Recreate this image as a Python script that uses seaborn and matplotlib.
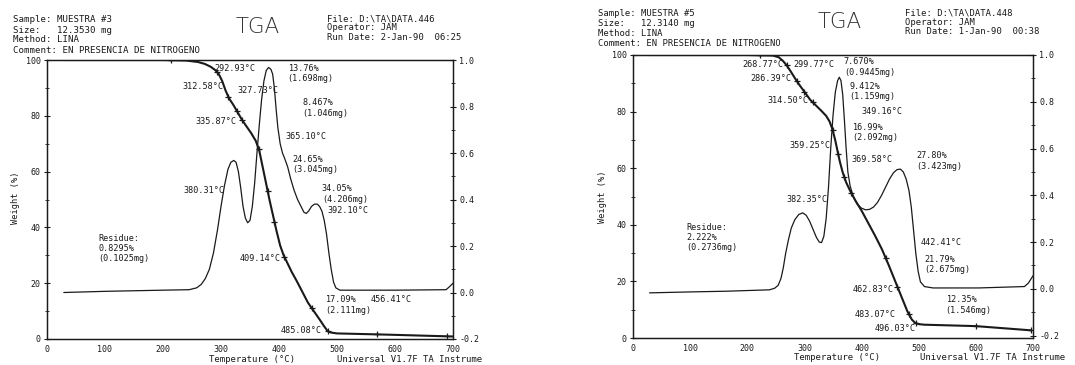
import numpy as np
import matplotlib
matplotlib.use("Agg")
import matplotlib.pyplot as plt
import seaborn as sns

# ---------------- data: sample 3 ----------------
s3_temp_w = [29, 200, 240, 260, 272, 282, 290, 296, 302, 308, 314, 321, 328, 336, 344, 352,
             360, 366, 372, 378, 384, 390, 396, 402, 408, 415, 422, 430, 440, 450, 460, 470,
             478, 484, 490, 500, 580, 700]
s3_weight = [100.0, 100.0, 99.8, 99.3, 98.6, 97.6, 96.4, 95.0, 92.5, 89.0, 86.2, 84.0, 81.5,
             78.6, 76.2, 73.8, 71.0, 67.5, 61.5, 55.5, 49.5, 44.0, 38.5, 33.5, 30.0, 27.0,
             24.0, 21.0, 17.0, 13.0, 10.0, 7.0, 4.5, 2.8, 2.3, 2.0, 1.6, 0.9]
s3_temp_d = [29, 100, 200, 245, 258, 266, 273, 280, 287, 294, 300, 306, 312, 317, 322, 326,
             330, 334, 338, 342, 346, 350, 354, 358, 362, 366, 370, 374, 378, 382, 386, 389,
             392, 395, 398, 402, 406, 410, 415, 420, 426, 432, 438, 443, 447, 451, 456, 461,
             466, 470, 474, 478, 482, 486, 490, 494, 498, 505, 600, 688, 694, 700]
s3_deriv = [0.0, 0.005, 0.01, 0.012, 0.02, 0.035, 0.06, 0.10, 0.17, 0.27, 0.37, 0.46, 0.53,
            0.56, 0.568, 0.56, 0.52, 0.45, 0.37, 0.32, 0.30, 0.31, 0.37, 0.47, 0.60, 0.72,
            0.83, 0.91, 0.955, 0.968, 0.96, 0.94, 0.88, 0.79, 0.71, 0.64, 0.60, 0.575, 0.54,
            0.49, 0.44, 0.40, 0.37, 0.345, 0.34, 0.35, 0.37, 0.38, 0.38, 0.37, 0.35, 0.31,
            0.25, 0.17, 0.10, 0.045, 0.02, 0.01, 0.01, 0.012, 0.025, 0.04]
s3_marks = [213, 292.93, 312.58, 327.73, 335.87, 365.10, 380.31, 392.10, 409.14, 456.41,
            485.08, 569, 690]
s3_labels = ["292.93°C", "312.58°C", "327.73°C", "335.87°C", "13.76%", "(1.698mg)",
             "8.467%", "(1.046mg)", "365.10°C", "24.65%", "(3.045mg)", "380.31°C",
             "34.05%", "(4.206mg)", "392.10°C", "Residue:", "0.8295%", "(0.1025mg)",
             "409.14°C", "17.09%", "456.41°C", "(2.111mg)", "485.08°C"]
s3_label_x = [288, 233, 328, 256, 415, 415, 440, 440, 411, 423, 423, 235,
              474, 474, 483, 89, 89, 89, 332, 480, 558, 480, 402]
s3_label_y = [97, 90.4, 89, 78, 97, 93.5, 84.7, 80.9, 72.5, 64.4, 60.6, 53.2,
              53.8, 50, 46, 36, 32.4, 28.8, 28.7, 14, 14, 10.2, 2.9]
s3_header = ["Sample: MUESTRA #3", "Size:   12.3530 mg", "Method: LINA",
             "Comment: EN PRESENCIA DE NITROGENO"]
s3_file = ["File: D:\\TA\\DATA.446", "Operator: JAM", "Run Date: 2-Jan-90  06:25"]

# ---------------- data: sample 5 ----------------
s5_temp_w = [29, 200, 245, 255, 262, 268, 276, 284, 292, 300, 310, 320, 330, 338, 344, 349,
             354, 358, 362, 367, 373, 380, 390, 400, 412, 424, 436, 448, 460, 470, 480, 488,
             494, 500, 510, 600, 697]
s5_weight = [100.0, 100.0, 99.8, 99.2, 98.0, 96.6, 94.2, 91.6, 89.2, 87.0, 84.2, 82.2, 80.2,
             78.5, 76.5, 73.8, 69.8, 66.0, 62.3, 58.5, 55.0, 52.0, 48.3, 45.0, 40.5, 36.0,
             31.2, 25.5, 19.5, 14.5, 9.5, 6.5, 5.3, 4.9, 4.7, 4.2, 2.7]
s5_temp_d = [29, 100, 163, 239, 248, 254, 259, 263, 267, 272, 277, 283, 290, 297, 303, 309,
             315, 321, 326, 330, 334, 338, 342, 346, 350, 354, 358, 361, 364, 367, 370, 373,
             376, 380, 386, 393, 400, 407, 414, 421, 428, 435, 442, 449, 456, 462, 468, 473,
             478, 483, 487, 491, 495, 499, 503, 510, 525, 605, 685, 692, 700]
s5_deriv = [-0.017, -0.013, -0.01, -0.004, 0.003, 0.015, 0.045, 0.09, 0.15, 0.21, 0.26, 0.295,
            0.318, 0.325, 0.315, 0.29, 0.255, 0.22, 0.20, 0.198, 0.225, 0.30, 0.43, 0.60,
            0.74, 0.84, 0.89, 0.905, 0.89, 0.83, 0.72, 0.60, 0.50, 0.44, 0.39, 0.36, 0.345,
            0.338, 0.34, 0.35, 0.37, 0.40, 0.435, 0.47, 0.497, 0.51, 0.512, 0.50, 0.47, 0.42,
            0.35, 0.25, 0.15, 0.075, 0.03, 0.01, 0.004, 0.004, 0.01, 0.025, 0.056]
s5_marks = [223, 268.77, 286.39, 299.77, 314.50, 349.16, 359.25, 369.58, 382.35, 442.41,
            462.83, 483.07, 496.03, 600, 697]
s5_labels = ["268.77°C", "299.77°C", "7.670%", "(0.9445mg)", "286.39°C", "9.412%",
             "(1.159mg)", "314.50°C", "349.16°C", "16.99%", "(2.092mg)", "359.25°C",
             "369.58°C", "27.80%", "(3.423mg)", "382.35°C", "Residue:", "2.222%",
             "(0.2736mg)", "442.41°C", "21.79%", "(2.675mg)", "462.83°C", "12.35%",
             "(1.546mg)", "483.07°C", "496.03°C"]
s5_label_x = [191, 280, 369, 369, 206, 379, 379, 235, 400, 384, 384, 273, 382, 496, 496,
              268, 93, 93, 93, 503, 510, 510, 385, 547, 547, 388, 422]
s5_label_y = [96.5, 96.5, 97.6, 93.9, 91.8, 88.8, 85.3, 83.8, 80, 74.5, 70.9, 67.9, 63.2,
              64.4, 60.6, 48.8, 39, 35.5, 32, 33.9, 27.6, 24.1, 17.3, 13.5, 9.8, 8.2, 3.2]
s5_header = ["Sample: MUESTRA #5", "Size:   12.3140 mg", "Method: LINA",
             "Comment: EN PRESENCIA DE NITROGENO"]
s5_file = ["File: D:\\TA\\DATA.448", "Operator: JAM", "Run Date: 1-Jan-90  00:38"]

x_ticks = [0, 100, 200, 300, 400, 500, 600, 700]
w_ticks = [0, 20, 40, 60, 80, 100]
d_ticks = [-0.2, 0.0, 0.2, 0.4, 0.6, 0.8, 1.0]
footer = "Universal V1.7F TA Instrume"

# ---------------- style ----------------
sns.set_style("white")
plt.rcParams["font.family"] = ["DejaVu Sans Mono", "DejaVu Sans"]
plt.rcParams["axes.linewidth"] = 0.9
INK = "#1a1a1a"
W, H = 1075, 365

fig = plt.figure(figsize=(W / 100, H / 100), dpi=100)


def px(x, y):
    return x / W, 1 - y / H


def draw_panel(rect, tw, wt, td, dv, marks, labels, lx, ly, dlim):
    ax = fig.add_axes(rect)
    ax2 = ax.twinx()
    # derivative curve on the right scale, weight curve on the left scale
    sns.lineplot(x=td, y=dv, ax=ax2, color=INK, lw=0.9, sort=False, estimator=None)
    sns.lineplot(x=tw, y=wt, ax=ax, color=INK, lw=1.5, sort=False, estimator=None)
    mk = np.interp(marks, tw, wt)
    ax.plot(marks, mk, ls="none", marker="+", ms=4.5, mew=0.9, color=INK)
    ax.set_xlim(0, 700)
    ax.set_ylim(0, 100)
    ax2.set_ylim(*dlim)
    ax.set_xticks(x_ticks)
    ax.set_xticks(np.arange(0, 701, 50), minor=True)
    ax.set_yticks(w_ticks)
    ax.set_yticks(np.arange(0, 101, 10), minor=True)
    ax2.set_yticks(d_ticks)
    ax2.set_yticks(np.arange(-0.2, 1.01, 0.1), minor=True)
    ax2.set_yticklabels([f"{v:.1f}" for v in d_ticks])
    for a in (ax, ax2):
        a.tick_params(which="major", direction="inout", length=5, width=0.8,
                      labelsize=6, colors=INK, pad=2)
        a.tick_params(which="minor", direction="inout", length=3, width=0.6, colors=INK)
        for s in a.spines.values():
            s.set_color(INK)
    ax.set_xlabel("")
    ax.set_ylabel("")
    ax2.set_ylabel("")
    ax2.set_xlabel("")
    for t, x, y in zip(labels, lx, ly):
        ax.text(x, y, t, fontsize=6.1, color=INK, va="center", ha="left")
    return ax


draw_panel([47 / W, 26 / H, 406 / W, 279 / H], s3_temp_w, s3_weight, s3_temp_d, s3_deriv,
           s3_marks, s3_labels, s3_label_x, s3_label_y, (-0.2, 1.0))
draw_panel([633 / W, 27 / H, 400 / W, 283 / H], s5_temp_w, s5_weight, s5_temp_d, s5_deriv,
           s5_marks, s5_labels, s5_label_x, s5_label_y, (-0.21, 0.98))

# header blocks
for lines, x0, ys, fs in [(s3_header, 13, [20, 30.5, 40, 50.5], 6.6),
                          (s5_header, 598, [13, 23.5, 33, 43], 6.4)]:
    for t, y in zip(lines, ys):
        fig.text(*px(x0, y), t, fontsize=fs, color=INK, va="center", ha="left")
for lines, x0, ys in [(s3_file, 327, [18.5, 28, 37.5]),
                      (s5_file, 905, [13, 22.5, 32])]:
    for t, y in zip(lines, ys):
        fig.text(*px(x0, y), t, fontsize=6.4, color=INK, va="center", ha="left")
for x0, y0 in [(258, 27), (840, 22)]:
    fig.text(*px(x0, y0), "TGA", fontsize=15.5, family="DejaVu Sans", color="#333333",
             va="center", ha="center", fontweight="light")

# axis titles and instrument footer
for x0, y0 in [(15, 198), (602, 197)]:
    fig.text(*px(x0, y0), "Weight (%)", fontsize=6.2, color=INK, rotation=90,
             va="center", ha="center")
for x0, y0 in [(252, 359), (837, 358)]:
    fig.text(*px(x0, y0), "Temperature (°C)", fontsize=6.5, color=INK, va="center",
             ha="center")
for x0, y0 in [(337, 359), (920, 358)]:
    fig.text(*px(x0, y0), footer, fontsize=6.5, color=INK, va="center", ha="left")

fig.savefig("out.png", dpi=100, facecolor="white")
